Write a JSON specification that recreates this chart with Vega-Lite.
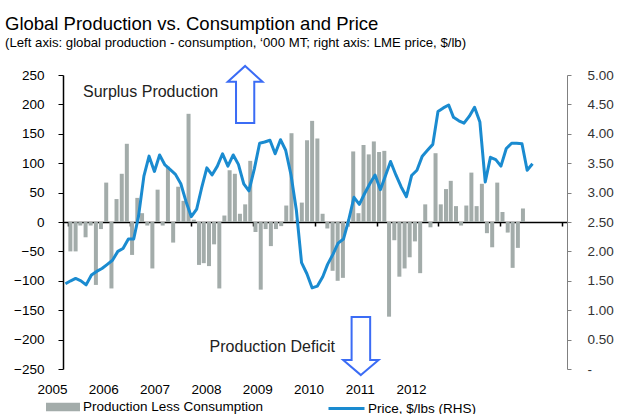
{
  "$schema": "https://vega.github.io/schema/vega-lite/v6.json",
  "width": 504,
  "height": 294,
  "autosize": "none",
  "padding": {"left": 63, "top": 75, "right": 76, "bottom": 45},
  "config": {
    "font": "Liberation Sans",
    "view": {"stroke": null},
    "axis": {"grid": false, "labelFont": "Liberation Sans", "labelColor": "#000000", "labelFontSize": 13.5}
  },
  "title": {
    "text": "Global Production vs. Consumption and Price",
    "subtitle": "(Left axis: global production - consumption, ‘000 MT; right axis: LME price, $/lb)",
    "anchor": "start",
    "frame": "group",
    "dx": -58,
    "dy": 3,
    "fontSize": 18.5,
    "fontWeight": "normal",
    "color": "#000000",
    "subtitleFontSize": 13.2,
    "subtitleColor": "#000000",
    "subtitlePadding": 3,
    "offset": 16
  },
  "datasets": {
    "monthly": [
      {"month": "2005-01-15", "surplus": -50, "price": 1.45},
      {"month": "2005-02-15", "surplus": -50, "price": 1.50},
      {"month": "2005-03-15", "surplus": -6, "price": 1.54},
      {"month": "2005-04-15", "surplus": -26, "price": 1.50},
      {"month": "2005-05-15", "surplus": -6, "price": 1.43},
      {"month": "2005-06-15", "surplus": -107, "price": 1.60},
      {"month": "2005-07-15", "surplus": -12, "price": 1.66},
      {"month": "2005-08-15", "surplus": 67, "price": 1.71},
      {"month": "2005-09-15", "surplus": -113, "price": 1.78},
      {"month": "2005-10-15", "surplus": 39, "price": 1.85},
      {"month": "2005-11-15", "surplus": 82, "price": 2.00},
      {"month": "2005-12-15", "surplus": 133, "price": 2.05},
      {"month": "2006-01-15", "surplus": -56, "price": 2.21},
      {"month": "2006-02-15", "surplus": 41, "price": 2.21},
      {"month": "2006-03-15", "surplus": 15, "price": 2.60},
      {"month": "2006-04-15", "surplus": -6, "price": 3.28},
      {"month": "2006-05-15", "surplus": -79, "price": 3.62},
      {"month": "2006-06-15", "surplus": 55, "price": 3.36},
      {"month": "2006-07-15", "surplus": -6, "price": 3.64},
      {"month": "2006-08-15", "surplus": 94, "price": 3.47},
      {"month": "2006-09-15", "surplus": -35, "price": 3.39},
      {"month": "2006-10-15", "surplus": 60, "price": 3.31},
      {"month": "2006-11-15", "surplus": 36, "price": 3.15},
      {"month": "2006-12-15", "surplus": 184, "price": 2.85},
      {"month": "2007-01-15", "surplus": 4, "price": 2.59},
      {"month": "2007-02-15", "surplus": -73, "price": 2.72},
      {"month": "2007-03-15", "surplus": -70, "price": 3.07},
      {"month": "2007-04-15", "surplus": -75, "price": 3.42},
      {"month": "2007-05-15", "surplus": -38, "price": 3.30},
      {"month": "2007-06-15", "surplus": -113, "price": 3.45},
      {"month": "2007-07-15", "surplus": 11, "price": 3.66},
      {"month": "2007-08-15", "surplus": 88, "price": 3.45},
      {"month": "2007-09-15", "surplus": 82, "price": 3.64},
      {"month": "2007-10-15", "surplus": 14, "price": 3.48},
      {"month": "2007-11-15", "surplus": 30, "price": 3.15},
      {"month": "2007-12-15", "surplus": 104, "price": 3.03},
      {"month": "2008-01-15", "surplus": -17, "price": 3.40},
      {"month": "2008-02-15", "surplus": -115, "price": 3.84},
      {"month": "2008-03-15", "surplus": -12, "price": 3.86},
      {"month": "2008-04-15", "surplus": -41, "price": 3.89},
      {"month": "2008-05-15", "surplus": -12, "price": 3.66},
      {"month": "2008-06-15", "surplus": -7, "price": 3.90},
      {"month": "2008-07-15", "surplus": 28, "price": 3.72},
      {"month": "2008-08-15", "surplus": 151, "price": 3.30},
      {"month": "2008-09-15", "surplus": 3, "price": 2.70},
      {"month": "2008-10-15", "surplus": 33, "price": 1.81},
      {"month": "2008-11-15", "surplus": 139, "price": 1.62},
      {"month": "2008-12-15", "surplus": 172, "price": 1.38},
      {"month": "2009-01-15", "surplus": 142, "price": 1.41},
      {"month": "2009-02-15", "surplus": 14, "price": 1.57},
      {"month": "2009-03-15", "surplus": -11, "price": 1.78},
      {"month": "2009-04-15", "surplus": -83, "price": 1.95},
      {"month": "2009-05-15", "surplus": -100, "price": 2.14},
      {"month": "2009-06-15", "surplus": -95, "price": 2.21},
      {"month": "2009-07-15", "surplus": -8, "price": 2.53},
      {"month": "2009-08-15", "surplus": 120, "price": 2.92},
      {"month": "2009-09-15", "surplus": 15, "price": 2.80},
      {"month": "2009-10-15", "surplus": 131, "price": 2.98},
      {"month": "2009-11-15", "surplus": 115, "price": 3.15},
      {"month": "2009-12-15", "surplus": 137, "price": 3.30},
      {"month": "2010-01-15", "surplus": 119, "price": 3.05},
      {"month": "2010-02-15", "surplus": 121, "price": 3.30},
      {"month": "2010-03-15", "surplus": -161, "price": 3.53},
      {"month": "2010-04-15", "surplus": -31, "price": 3.30},
      {"month": "2010-05-15", "surplus": -93, "price": 3.10},
      {"month": "2010-06-15", "surplus": -79, "price": 2.93},
      {"month": "2010-07-15", "surplus": -60, "price": 3.29},
      {"month": "2010-08-15", "surplus": -33, "price": 3.38},
      {"month": "2010-09-15", "surplus": -87, "price": 3.62},
      {"month": "2010-10-15", "surplus": 30, "price": 3.72},
      {"month": "2010-11-15", "surplus": -9, "price": 3.82},
      {"month": "2010-12-15", "surplus": 117, "price": 4.38},
      {"month": "2011-01-15", "surplus": 30, "price": 4.44},
      {"month": "2011-02-15", "surplus": 56, "price": 4.49},
      {"month": "2011-03-15", "surplus": 70, "price": 4.28},
      {"month": "2011-04-15", "surplus": 27, "price": 4.22},
      {"month": "2011-05-15", "surplus": -6, "price": 4.18},
      {"month": "2011-06-15", "surplus": 28, "price": 4.30},
      {"month": "2011-07-15", "surplus": 84, "price": 4.45},
      {"month": "2011-08-15", "surplus": 27, "price": 4.20},
      {"month": "2011-09-15", "surplus": 65, "price": 3.18},
      {"month": "2011-10-15", "surplus": -19, "price": 3.60},
      {"month": "2011-11-15", "surplus": -43, "price": 3.56},
      {"month": "2011-12-15", "surplus": 67, "price": 3.45},
      {"month": "2012-01-15", "surplus": 17, "price": 3.75},
      {"month": "2012-02-15", "surplus": -18, "price": 3.84},
      {"month": "2012-03-15", "surplus": -78, "price": 3.84},
      {"month": "2012-04-15", "surplus": -44, "price": 3.83},
      {"month": "2012-05-15", "surplus": 23, "price": 3.38},
      {"month": "2012-06-15", "surplus": null, "price": 3.49}
    ],
    "years": [
      {"yr": 2005}, {"yr": 2006}, {"yr": 2007}, {"yr": 2008},
      {"yr": 2009}, {"yr": 2010}, {"yr": 2011}, {"yr": 2012}
    ]
  },
  "resolve": {"scale": {"x": "independent", "y": "independent"}},
  "layer": [
    {
      "data": {"name": "monthly"},
      "transform": [{"filter": "datum.surplus != null"}],
      "mark": {"type": "bar", "width": 4},
      "encoding": {
        "x": {
          "field": "month", "type": "temporal",
          "scale": {"type": "utc", "domain": [{"year": 2005, "month": 1, "date": 1, "utc": true}, {"year": 2013, "month": 1, "date": 1, "utc": true}], "nice": false},
          "axis": {
            "orient": "bottom", "offset": -147, "title": null, "labels": false,
            "values": [
              {"year": 2005, "month": 1, "date": 1, "utc": true},
              {"year": 2006, "month": 1, "date": 1, "utc": true},
              {"year": 2007, "month": 1, "date": 1, "utc": true},
              {"year": 2008, "month": 1, "date": 1, "utc": true},
              {"year": 2009, "month": 1, "date": 1, "utc": true},
              {"year": 2010, "month": 1, "date": 1, "utc": true},
              {"year": 2011, "month": 1, "date": 1, "utc": true},
              {"year": 2012, "month": 1, "date": 1, "utc": true},
              {"year": 2013, "month": 1, "date": 1, "utc": true}
            ],
            "domainColor": "#000000", "domainWidth": 1.5, "tickColor": "#000000", "tickWidth": 1.5, "tickSize": 4
          }
        },
        "y": {
          "field": "surplus", "type": "quantitative",
          "scale": {"domain": [-250, 250], "nice": false},
          "axis": {
            "title": null, "values": [-250, -200, -150, -100, -50, 0, 50, 100, 150, 200, 250],
            "domainColor": "#000000", "domainWidth": 1.5, "tickColor": "#000000", "tickSize": 5, "labelPadding": 14
          }
        },
        "fill": {
          "datum": "Production Less Consumption",
          "scale": {"range": ["#a3acaa"]},
          "legend": {
            "title": null, "orient": "none", "legendX": -17, "legendY": 315, "padding": 0,
            "symbolType": "M-1,-0.25L1,-0.25L1,0.25L-1,0.25Z", "symbolSize": 1156, "symbolStrokeWidth": 0,
            "labelFontSize": 13.5, "labelColor": "#000000", "labelOffset": 3, "labelLimit": 400, "labelFont": "Liberation Sans"
          }
        }
      }
    },
    {
      "data": {"values": [{}]},
      "mark": {"type": "text", "align": "left", "baseline": "middle", "fontSize": 16, "color": "#222222"},
      "encoding": {
        "x": {"datum": {"year": 2005, "month": 4, "date": 27, "utc": true}, "type": "temporal",
              "scale": {"type": "utc", "domain": [{"year": 2005, "month": 1, "date": 1, "utc": true}, {"year": 2013, "month": 1, "date": 1, "utc": true}], "nice": false}, "axis": null},
        "y": {"datum": 221, "type": "quantitative", "scale": {"domain": [-250, 250], "nice": false}, "axis": null},
        "text": {"value": "Surplus Production"}
      }
    },
    {
      "data": {"values": [{}]},
      "mark": {"type": "text", "align": "left", "baseline": "middle", "fontSize": 16, "color": "#222222"},
      "encoding": {
        "x": {"datum": {"year": 2007, "month": 5, "date": 1, "utc": true}, "type": "temporal",
              "scale": {"type": "utc", "domain": [{"year": 2005, "month": 1, "date": 1, "utc": true}, {"year": 2013, "month": 1, "date": 1, "utc": true}], "nice": false}, "axis": null},
        "y": {"datum": -212, "type": "quantitative", "scale": {"domain": [-250, 250], "nice": false}, "axis": null},
        "text": {"value": "Production Deficit"}
      }
    },
    {
      "data": {"values": [{}]},
      "mark": {"type": "point", "filled": true, "fill": "#ffffff", "stroke": "#3b6cf5", "strokeWidth": 2, "opacity": 1,
               "shape": "M0,-1L0.61,-0.44L0.32,-0.44L0.32,1L-0.32,1L-0.32,-0.44L-0.61,-0.44Z", "size": 3249},
      "encoding": {
        "x": {"datum": {"year": 2007, "month": 11, "date": 23, "utc": true}, "type": "temporal",
              "scale": {"type": "utc", "domain": [{"year": 2005, "month": 1, "date": 1, "utc": true}, {"year": 2013, "month": 1, "date": 1, "utc": true}], "nice": false}, "axis": null},
        "y": {"datum": 217, "type": "quantitative", "scale": {"domain": [-250, 250], "nice": false}, "axis": null}
      }
    },
    {
      "data": {"values": [{}]},
      "mark": {"type": "point", "filled": true, "fill": "#ffffff", "stroke": "#3b6cf5", "strokeWidth": 2, "opacity": 1,
               "shape": "M0,1L0.61,0.48L0.32,0.48L0.32,-1L-0.32,-1L-0.32,0.48L-0.61,0.48Z", "size": 3364},
      "encoding": {
        "x": {"datum": {"year": 2009, "month": 9, "date": 24, "utc": true}, "type": "temporal",
              "scale": {"type": "utc", "domain": [{"year": 2005, "month": 1, "date": 1, "utc": true}, {"year": 2013, "month": 1, "date": 1, "utc": true}], "nice": false}, "axis": null},
        "y": {"datum": -211, "type": "quantitative", "scale": {"domain": [-250, 250], "nice": false}, "axis": null}
      }
    },
    {
      "data": {"name": "monthly"},
      "mark": {"type": "line", "strokeWidth": 3, "strokeJoin": "round"},
      "encoding": {
        "x": {"field": "month", "type": "temporal",
              "scale": {"type": "utc", "domain": [{"year": 2005, "month": 1, "date": 1, "utc": true}, {"year": 2013, "month": 1, "date": 1, "utc": true}], "nice": false}, "axis": null},
        "y": {
          "field": "price", "type": "quantitative",
          "scale": {"domain": [0, 5], "nice": false, "zero": false},
          "axis": {
            "orient": "right", "title": null, "values": [0, 0.5, 1, 1.5, 2, 2.5, 3, 3.5, 4, 4.5, 5],
            "labelExpr": "datum.value == 0 ? '-' : format(datum.value, '.2f')",
            "domainColor": "#808080", "tickColor": "#808080", "tickSize": 4, "labelPadding": 16, "labelColor": "#333333"
          }
        },
        "stroke": {
          "datum": "Price, $/lbs (RHS)",
          "scale": {"range": ["#1a8bd0"]},
          "legend": {
            "title": null, "orient": "none", "legendX": 264, "legendY": 314, "padding": 0,
            "symbolType": "stroke", "symbolSize": 1296, "symbolStrokeWidth": 3,
            "labelFontSize": 13.5, "labelColor": "#000000", "labelOffset": 2, "labelLimit": 400, "labelFont": "Liberation Sans"
          }
        }
      }
    },
    {
      "data": {"name": "years"},
      "mark": {"type": "point", "opacity": 0},
      "encoding": {
        "x": {
          "field": "yr", "type": "quantitative",
          "scale": {"domain": [2005, 2014.825], "nice": false, "zero": false},
          "axis": {
            "orient": "bottom", "title": null, "values": [2005, 2006, 2007, 2008, 2009, 2010, 2011, 2012],
            "format": "d", "labelOffset": -11, "labelFlush": false, "domain": false, "ticks": false, "labelPadding": 13
          }
        }
      }
    }
  ]
}
